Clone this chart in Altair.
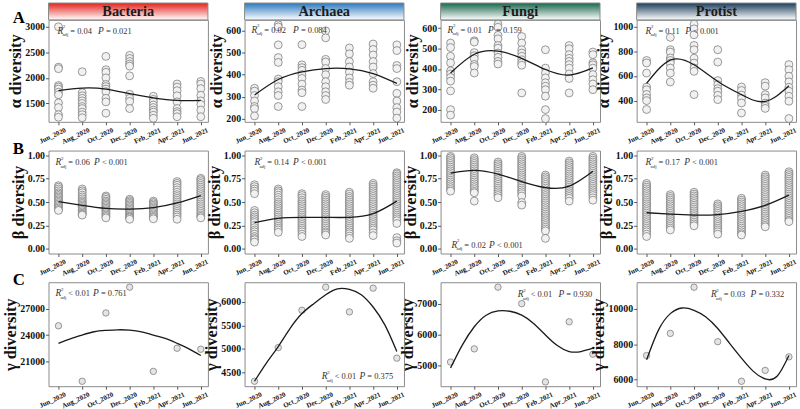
import altair as alt
import pandas as pd

SERIF = "Liberation Serif"

months = ["Jun_2020", "Aug_2020", "Oct_2020", "Dec_2020", "Feb_2021", "Apr_2021", "Jun_2021"]
groups = ["Bacteria", "Archaea", "Fungi", "Protist"]
header_colors = ["#e3231b", "#2b78be", "#17664a", "#1b3d5c"]

# ---- alpha diversity (per-sample richness by sampling month) ----
alpha_bacteria = [
    [3000, 2210, 2180, 1850, 1820, 1780, 1720, 1670, 1510, 1420, 1280, 1230],
    [2120, 1710, 1650, 1600, 1550, 1500, 1440, 1400, 1330, 1280, 1220],
    [2420, 2160, 2110, 2000, 1870, 1830, 1780, 1730, 1600, 1530, 1310],
    [2440, 2380, 2320, 2270, 2230, 2040, 1680, 1600, 1540, 1400],
    [1640, 1580, 1530, 1470, 1420, 1370, 1330, 1270, 1210],
    [1880, 1820, 1750, 1650, 1530, 1400, 1340, 1300, 1240],
    [1930, 1880, 1790, 1660, 1550, 1480, 1370, 1240],
]
alpha_archaea = [
    [338, 325, 305, 280, 255, 245, 212],
    [628, 618, 536, 478, 456, 380, 368, 345, 322, 305, 255],
    [537, 445, 432, 420, 400, 383, 357, 330, 318, 255],
    [600, 568, 470, 458, 428, 400, 368, 345, 322, 305, 287],
    [522, 495, 460, 435, 412, 385, 365, 352],
    [540, 515, 490, 460, 435, 405, 368, 352, 338],
    [536, 510, 442, 428, 368, 315, 280, 250, 230, 202],
]
alpha_fungi = [
    [527, 505, 462, 430, 390, 375, 358, 340, 292, 200, 173],
    [538, 532, 480, 465, 450, 422, 412, 380],
    [620, 605, 565, 548, 515, 502, 478, 457, 437, 424],
    [559, 527, 494, 478, 462, 445, 430, 418, 282],
    [494, 404, 380, 356, 332, 315, 298, 266, 200, 156],
    [515, 499, 470, 452, 437, 421, 404, 375, 353, 282],
    [483, 470, 430, 420, 404, 372, 347, 326, 298],
]
alpha_protist = [
    [725, 705, 623, 510, 488, 450, 422, 400, 328],
    [912, 812, 793, 745, 725, 704, 664, 623, 551],
    [1019, 981, 933, 847, 812, 744, 704, 664, 637, 449],
    [812, 712, 562, 530, 497, 476, 443, 408],
    [510, 482, 445, 418, 381, 300],
    [545, 517, 448, 422, 380, 355, 337],
    [692, 650, 597, 552, 508, 476, 435, 395, 255],
]
alpha_fit = [
    [1750, 1800, 1780, 1690, 1610, 1560, 1560],
    [307, 378, 413, 428, 427, 405, 360],
    [380, 472, 487, 452, 397, 370, 405],
    [540, 728, 690, 555, 448, 393, 520],
]

# ---- beta diversity (pairwise dissimilarity by sampling month) ----
beta_bacteria = [
    [0.676, 0.66, 0.64, 0.62, 0.60, 0.585, 0.57, 0.555, 0.54, 0.525, 0.51, 0.495, 0.48, 0.465, 0.45, 0.435, 0.42, 0.41],
    [0.64, 0.62, 0.60, 0.575, 0.555, 0.535, 0.515, 0.50, 0.485, 0.47, 0.455, 0.44, 0.425, 0.41, 0.395, 0.38, 0.37, 0.36],
    [0.565, 0.55, 0.53, 0.51, 0.495, 0.48, 0.465, 0.45, 0.435, 0.42, 0.405, 0.39, 0.375, 0.36, 0.345, 0.33],
    [0.53, 0.515, 0.50, 0.485, 0.47, 0.455, 0.44, 0.425, 0.41, 0.395, 0.38, 0.365, 0.35, 0.34, 0.33, 0.315],
    [0.51, 0.495, 0.48, 0.465, 0.45, 0.435, 0.42, 0.405, 0.39, 0.375, 0.36, 0.345, 0.335, 0.32],
    [0.72, 0.70, 0.68, 0.655, 0.63, 0.605, 0.58, 0.56, 0.54, 0.52, 0.50, 0.48, 0.46, 0.44, 0.42, 0.40, 0.38, 0.36, 0.34, 0.315],
    [0.755, 0.74, 0.72, 0.70, 0.68, 0.66, 0.64, 0.62, 0.60, 0.58, 0.56, 0.54, 0.52, 0.50, 0.48, 0.46, 0.44, 0.42, 0.40, 0.38, 0.36, 0.345, 0.33],
]
beta_archaea = [
    [0.686, 0.665, 0.64, 0.617, 0.59, 0.41, 0.385, 0.36, 0.34, 0.32, 0.30, 0.28, 0.25, 0.225, 0.20, 0.18, 0.155, 0.13, 0.11, 0.095, 0.07],
    [0.64, 0.62, 0.60, 0.575, 0.55, 0.525, 0.50, 0.48, 0.46, 0.44, 0.42, 0.40, 0.38, 0.36, 0.34, 0.32, 0.30, 0.28, 0.26, 0.24, 0.22, 0.20, 0.175],
    [0.59, 0.57, 0.545, 0.52, 0.50, 0.48, 0.46, 0.44, 0.42, 0.40, 0.38, 0.36, 0.34, 0.32, 0.30, 0.28, 0.26, 0.24, 0.22, 0.20, 0.18, 0.155, 0.13],
    [0.58, 0.56, 0.54, 0.52, 0.50, 0.48, 0.46, 0.44, 0.42, 0.40, 0.38, 0.36, 0.34, 0.32, 0.30, 0.28, 0.26, 0.24, 0.22, 0.20, 0.18, 0.165, 0.146],
    [0.605, 0.585, 0.56, 0.54, 0.52, 0.50, 0.48, 0.46, 0.44, 0.42, 0.40, 0.38, 0.36, 0.34, 0.32, 0.30, 0.28, 0.26, 0.24, 0.22, 0.20, 0.18, 0.16, 0.135, 0.11],
    [0.70, 0.68, 0.66, 0.64, 0.62, 0.60, 0.58, 0.56, 0.54, 0.52, 0.50, 0.48, 0.46, 0.44, 0.42, 0.40, 0.38, 0.36, 0.34, 0.32, 0.30, 0.28, 0.26, 0.24, 0.22, 0.20, 0.17, 0.14],
    [0.815, 0.80, 0.78, 0.76, 0.74, 0.72, 0.70, 0.68, 0.66, 0.64, 0.62, 0.60, 0.58, 0.56, 0.54, 0.52, 0.50, 0.48, 0.46, 0.44, 0.42, 0.40, 0.38, 0.36, 0.34, 0.32, 0.30, 0.27, 0.118, 0.084, 0.06],
]
beta_fungi = [
    [0.99, 0.975, 0.955, 0.935, 0.915, 0.895, 0.875, 0.855, 0.835, 0.815, 0.795, 0.775, 0.755, 0.735, 0.715, 0.695, 0.675, 0.655, 0.635, 0.617],
    [0.975, 0.955, 0.935, 0.915, 0.895, 0.875, 0.855, 0.835, 0.815, 0.795, 0.775, 0.755, 0.735, 0.715, 0.695, 0.675, 0.655, 0.635, 0.615, 0.60, 0.51],
    [0.93, 0.91, 0.89, 0.87, 0.85, 0.83, 0.81, 0.79, 0.77, 0.75, 0.73, 0.71, 0.69, 0.67, 0.65, 0.63, 0.61, 0.59, 0.57, 0.547],
    [0.99, 0.97, 0.95, 0.93, 0.91, 0.89, 0.87, 0.85, 0.83, 0.81, 0.79, 0.77, 0.75, 0.73, 0.71, 0.69, 0.67, 0.65, 0.63, 0.61, 0.59, 0.565, 0.495, 0.467],
    [0.79, 0.77, 0.75, 0.73, 0.71, 0.69, 0.67, 0.65, 0.63, 0.61, 0.59, 0.57, 0.55, 0.53, 0.51, 0.49, 0.47, 0.45, 0.43, 0.41, 0.39, 0.37, 0.35, 0.33, 0.31, 0.29, 0.27, 0.25, 0.23, 0.21, 0.19, 0.11],
    [0.94, 0.92, 0.90, 0.88, 0.86, 0.84, 0.82, 0.80, 0.78, 0.76, 0.74, 0.72, 0.70, 0.68, 0.66, 0.64, 0.62, 0.60, 0.58, 0.56, 0.54, 0.51],
    [0.99, 0.97, 0.95, 0.93, 0.91, 0.89, 0.87, 0.85, 0.83, 0.81, 0.79, 0.77, 0.75, 0.73, 0.71, 0.69, 0.67, 0.65, 0.63, 0.61, 0.59, 0.57, 0.545, 0.52],
]
beta_protist = [
    [0.70, 0.68, 0.66, 0.64, 0.62, 0.60, 0.58, 0.56, 0.54, 0.52, 0.50, 0.48, 0.46, 0.44, 0.42, 0.40, 0.38, 0.36, 0.34, 0.32, 0.30, 0.28, 0.26, 0.24, 0.22, 0.20, 0.18, 0.155, 0.13],
    [0.58, 0.56, 0.54, 0.52, 0.50, 0.48, 0.46, 0.44, 0.42, 0.40, 0.38, 0.36, 0.34, 0.32, 0.30, 0.28, 0.26, 0.24, 0.22, 0.20],
    [0.605, 0.585, 0.565, 0.545, 0.525, 0.505, 0.485, 0.465, 0.445, 0.425, 0.405, 0.385, 0.365, 0.345, 0.325, 0.305, 0.285, 0.265, 0.245],
    [0.48, 0.46, 0.44, 0.42, 0.40, 0.38, 0.36, 0.34, 0.32, 0.30, 0.28, 0.26, 0.24, 0.22, 0.20, 0.18, 0.155],
    [0.54, 0.52, 0.50, 0.48, 0.46, 0.44, 0.42, 0.40, 0.38, 0.36, 0.34, 0.32, 0.30, 0.28, 0.26, 0.24, 0.22, 0.20, 0.18, 0.16, 0.146],
    [0.79, 0.77, 0.75, 0.73, 0.71, 0.69, 0.67, 0.65, 0.63, 0.61, 0.59, 0.57, 0.55, 0.53, 0.51, 0.49, 0.47, 0.45, 0.43, 0.41, 0.39, 0.37, 0.35, 0.33, 0.31, 0.29, 0.27, 0.25, 0.234],
    [0.825, 0.805, 0.785, 0.765, 0.745, 0.725, 0.705, 0.685, 0.665, 0.645, 0.625, 0.605, 0.585, 0.565, 0.545, 0.525, 0.505, 0.485, 0.465, 0.445, 0.425, 0.405, 0.385, 0.365, 0.345, 0.325, 0.305, 0.29],
]
beta_fit = [
    [0.505, 0.465, 0.432, 0.425, 0.44, 0.49, 0.57],
    [0.28, 0.325, 0.335, 0.335, 0.335, 0.375, 0.51],
    [0.81, 0.84, 0.80, 0.72, 0.655, 0.67, 0.83],
    [0.385, 0.37, 0.36, 0.365, 0.40, 0.465, 0.575],
]

# ---- gamma diversity (pooled richness per month) ----
gamma_points = [
    [25050, 18750, 26510, 29440, 19875, 22500, 22390],
    [4310, 5028, 5824, 6317, 5789, 6296, 4803],
    [5117, 5543, 7532, 7000, 4478, 6415, 5372],
    [7360, 8605, 11210, 8140, 5908, 6522, 7284],
]
# fitted curve sampled every half step between sampling months
gamma_fit = [
    [23060, 23560, 24000, 24375, 24525, 24600, 24560, 24375, 24000, 23625, 23060, 22425, 21675],
    [4310, 4698, 5050, 5437, 5754, 5965, 6155, 6282, 6268, 6155, 5894, 5507, 4944],
    [4925, 5670, 6255, 6628, 6766, 6755, 6628, 6362, 5990, 5649, 5457, 5457, 5564],
    [7117, 8790, 9720, 10037, 9907, 9535, 8884, 8047, 7210, 6466, 6038, 6187, 7360],
]
gamma_fit_x = [0, 0.5, 1, 1.5, 2, 2.5, 3, 3.5, 4, 4.5, 5, 5.5, 6]

# ---- model statistics ----
r2_text = [
    ["= 0.04", "= 0.02", "= 0.01", "= 0.11"],
    ["= 0.06", "= 0.14", "= 0.02", "= 0.17"],
    ["< 0.01", "< 0.01", "< 0.01", "= 0.03"],
]
p_text = [
    ["= 0.021", "= 0.084", "= 0.159", "< 0.001"],
    ["< 0.001", "< 0.001", "< 0.001", "< 0.001"],
    ["= 0.761", "= 0.375", "= 0.930", "= 0.332"],
]
# label anchor inside each panel: (x, y, offset of P)
stat_pos = [
    [(9, 11, 41), (7, 10, 42), (7, 10, 41), (9, 11, 40)],
    [(7, 12, 39), (10, 12, 39), (11, 95, 38), (9, 12, 39)],
    [(7, 11, 38), (78, 95, 38), (78, 12, 41), (75, 12, 40)],
]

y_titles = ["α diversity", "β diversity", "γ diversity"]
row_letters = ["A", "B", "C"]
y_domains = [
    [(1140, 3135), (185, 650), (140, 641), (228, 1054)],
    [(-0.053, 1.053)] * 4,
    [(18190, 30000), (4205, 6422), (4340, 7690), (5630, 11490)],
]
y_ticks = [
    [[1500, 2000, 2500, 3000], [200, 300, 400, 500, 600], [200, 300, 400, 500, 600], [400, 600, 800, 1000]],
    [[0, 0.25, 0.5, 0.75, 1.0]] * 4,
    [[21000, 24000, 27000], [4500, 5000, 5500, 6000], [5000, 6000, 7000], [6000, 8000, 10000]],
]
heights = [103, 104, 105]
W = 161

alpha_sets = [alpha_bacteria, alpha_archaea, alpha_fungi, alpha_protist]
beta_sets = [beta_bacteria, beta_archaea, beta_fungi, beta_protist]

ONE = pd.DataFrame({"k": [0]})
label_expr = "[" + ",".join("'%s'" % m for m in months) + "][datum.value]"


def txt(x, y, s, size, style="normal", weight="normal", align="left",
        baseline="middle", color="#333333"):
    return alt.Chart(ONE).mark_text(
        text=s, font=SERIF, fontSize=size, fontStyle=style, fontWeight=weight,
        align=align, baseline=baseline, color=color,
    ).encode(x=alt.value(x), y=alt.value(y))


def long_table(groups_of_values):
    rows = []
    for i, vals in enumerate(groups_of_values):
        for v in vals:
            rows.append({"m": i, "v": v})
    return pd.DataFrame(rows)


def panel(r, g):
    if r == 0:
        pts = long_table(alpha_sets[g])
        fit = pd.DataFrame({"m": list(range(7)), "v": alpha_fit[g]})
    elif r == 1:
        pts = long_table(beta_sets[g])
        fit = pd.DataFrame({"m": list(range(7)), "v": beta_fit[g]})
    else:
        pts = pd.DataFrame({"m": list(range(7)), "v": gamma_points[g]})
        fit = pd.DataFrame({"m": gamma_fit_x, "v": gamma_fit[g]})

    fmt = ".2f" if r == 1 else "d"
    x_enc = alt.X("m:Q", scale=alt.Scale(domain=[-0.42, 6.3], nice=False, zero=False),
                  axis=alt.Axis(values=list(range(7)), labelExpr=label_expr, title=None,
                                labelOverlap=False, labelOffset=5))
    y_enc = alt.Y("v:Q", scale=alt.Scale(domain=list(y_domains[r][g]), nice=False, zero=False),
                  axis=alt.Axis(values=y_ticks[r][g], format=fmt, title=y_titles[r],
                                labelOverlap=False))

    size = 42 if r == 2 else 64
    fill = "#e4e4e4" if r == 2 else "#f1f1f1"
    dots = alt.Chart(pts).mark_point(
        shape="circle", filled=False, fill=fill, fillOpacity=1,
        stroke="#6f6f6f", strokeWidth=0.7, size=size, opacity=1,
    ).encode(x=x_enc, y=y_enc)
    curve = alt.Chart(fit).mark_line(
        interpolate="natural", color="#1a1a1a", strokeWidth=1.3
    ).encode(x=x_enc, y=y_enc)

    layers = [dots, curve]

    rx, ry, poff = stat_pos[r][g]
    layers += [
        txt(rx, ry, "R", 9.5, style="italic"),
        txt(rx + 5.5, ry - 4.5, "2", 5),
        txt(rx + 5, ry + 3.5, "adj", 5),
        txt(rx + 13, ry, r2_text[r][g], 8.5),
        txt(rx + poff, ry, "P", 9.5, style="italic"),
        txt(rx + poff + 8, ry, p_text[r][g], 8.5),
    ]

    if r == 0:
        grad = alt.LinearGradient(
            gradient="linear",
            stops=[alt.GradientStop(color=header_colors[g], offset=0),
                   alt.GradientStop(color="#ffffff", offset=1)],
            x1=0, x2=0, y1=0, y2=1,
        )
        band = alt.Chart(ONE).mark_rect(fill=grad, stroke="#8a8a8a", strokeWidth=1).encode(
            x=alt.value(0), x2=alt.value(W), y=alt.value(-17), y2=alt.value(0)
        )
        layers = [band, txt(W / 2, -8, groups[g], 14.5, weight="bold", align="center",
                            color="#1c1c1c")] + layers

    if g == 0:
        layers.append(txt(-36, 3, row_letters[r], 17, weight="bold", baseline="alphabetic",
                          color="#000000"))

    return alt.layer(*layers).properties(width=W, height=heights[r])


panels = [panel(r, g) for r in range(3) for g in range(4)]

chart = alt.concat(
    *panels, columns=4, spacing={"row": 29, "column": 37}, bounds="flush"
).resolve_scale(
    x="independent", y="independent"
).properties(
    padding={"left": 2, "top": 0, "right": 2, "bottom": 0}
).configure(
    background="white"
).configure_view(
    stroke="#8a8a8a", strokeWidth=1
).configure_axis(
    domain=False, grid=False, ticks=True, tickSize=3, tickColor="#555555",
    labelFont=SERIF, labelFontWeight="bold", labelColor="#111111",
    titleFont=SERIF, titleFontWeight="bold", titleColor="#111111",
    titleFontSize=16.5, labelPadding=1, titlePadding=1, labelOverlap=False,
).configure_axisX(
    labelFontSize=7, labelAngle=335, labelAlign="right", labelBaseline="top",
).configure_axisY(
    labelFontSize=10,
)

chart.save("out.html", embed_options={"renderer": "svg", "actions": False})
